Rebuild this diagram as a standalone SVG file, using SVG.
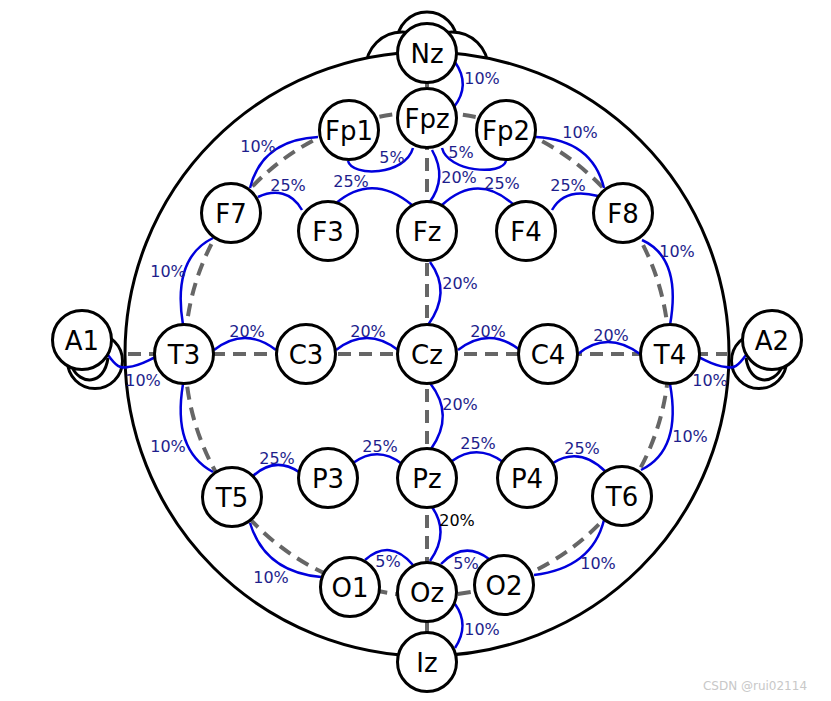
<svg xmlns="http://www.w3.org/2000/svg" width="831" height="701" viewBox="0 0 831 701">
<style>
.o{fill:#fff;stroke:#000;stroke-width:3}
.e{fill:none;stroke:#000;stroke-width:3}
.n circle{fill:#fff;stroke:#000;stroke-width:3}
.n text{font-family:"DejaVu Sans",sans-serif;font-size:26px;text-anchor:middle;fill:#000}
.d{fill:none;stroke:#666;stroke-width:4;stroke-dasharray:13,8}
.b{fill:none;stroke:#0000dd;stroke-width:2.5}
.l{font-family:"DejaVu Sans",sans-serif;font-size:16px;text-anchor:middle;fill:#1e1e8c}
</style>
<rect width="831" height="701" fill="#fff"/>
<g id="outline">
<circle class="o" cx="427" cy="42" r="30"/>
<circle class="o" cx="402" cy="68" r="36"/>
<circle class="o" cx="452" cy="68" r="36"/>
<circle class="o" cx="95" cy="361" r="27.5"/>
<circle class="o" cx="759" cy="361" r="27.5"/>
<circle class="o" cx="427" cy="354" r="302"/>
<path class="e" d="M72,367 C80,385 104,386 108,358"/>
<path class="e" d="M782,367 C774,385 750,386 746,358"/>
</g>
<g id="connectors">
<circle class="d" cx="427" cy="354" r="242"/>
<line class="d" x1="128" y1="354" x2="727" y2="354"/>
<line class="d" x1="427" y1="53" x2="427" y2="662"/>
<path class="b" d="M455,62 Q471,85 454,107"/>
<path class="b" d="M348,161 C352,177 405,176 413,148"/>
<path class="b" d="M442,148 C448,172 502,176 506,161"/>
<path class="b" d="M432,150 Q448,178 429,203"/>
<path class="b" d="M250,188 Q262,140 318,137"/>
<path class="b" d="M536,137 Q592,140 604,188"/>
<path class="b" d="M258,197 C275,189 292,192 302,210"/>
<path class="b" d="M335,204 Q372,172 412,205"/>
<path class="b" d="M442,205 Q478,172 514,205"/>
<path class="b" d="M552,210 C562,192 580,191 598,196"/>
<path class="b" d="M213,238 Q172,258 183,325"/>
<path class="b" d="M642,240 Q682,258 670,325"/>
<path class="b" d="M430,262 Q452,292 428,325"/>
<path class="b" d="M214,350 Q245,326 276,350"/>
<path class="b" d="M336,350 Q367,326 398,350"/>
<path class="b" d="M458,350 Q489,326 520,350"/>
<path class="b" d="M578,354 Q607,330 640,354"/>
<path class="b" d="M108,355 C116,366 120,369 128,367 C140,366 148,360 156,357"/>
<path class="b" d="M746,355 C738,366 734,369 726,367 C714,366 706,360 698,357"/>
<path class="b" d="M430,383 Q455,415 431,449"/>
<path class="b" d="M183,384 Q172,450 213,472"/>
<path class="b" d="M670,384 Q682,450 641,470"/>
<path class="b" d="M253,476 Q275,456 299,472"/>
<path class="b" d="M353,463 Q378,445 402,464"/>
<path class="b" d="M452,461 Q477,443 503,462"/>
<path class="b" d="M553,463 Q580,446 606,472"/>
<path class="b" d="M432,507 Q450,533 430,561"/>
<path class="b" d="M250,523 Q265,572 321,577"/>
<path class="b" d="M365,560 Q390,538 413,565"/>
<path class="b" d="M441,564 Q464,540 489,559"/>
<path class="b" d="M604,520 Q592,568 534,575"/>
<path class="b" d="M455,604 Q470,625 455,648"/>
</g>
<g id="labels">
<text class="l" x="482" y="84">10%</text>
<text class="l" x="392" y="163">5%</text>
<text class="l" x="461" y="158">5%</text>
<text class="l" x="459" y="183">20%</text>
<text class="l" x="258" y="152">10%</text>
<text class="l" x="580" y="138">10%</text>
<text class="l" x="288" y="191">25%</text>
<text class="l" x="351" y="187">25%</text>
<text class="l" x="502" y="189">25%</text>
<text class="l" x="568" y="191">25%</text>
<text class="l" x="168" y="277">10%</text>
<text class="l" x="677" y="257">10%</text>
<text class="l" x="460" y="289">20%</text>
<text class="l" x="247" y="337">20%</text>
<text class="l" x="368" y="337">20%</text>
<text class="l" x="488" y="337">20%</text>
<text class="l" x="611" y="341">20%</text>
<text class="l" x="143" y="386">10%</text>
<text class="l" x="710" y="386">10%</text>
<text class="l" x="460" y="410">20%</text>
<text class="l" x="168" y="452">10%</text>
<text class="l" x="690" y="442">10%</text>
<text class="l" x="277" y="464">25%</text>
<text class="l" x="380" y="452">25%</text>
<text class="l" x="478" y="449">25%</text>
<text class="l" x="582" y="454">25%</text>
<text class="l" x="457" y="526" style="fill:#000">20%</text>
<text class="l" x="271" y="583">10%</text>
<text class="l" x="388" y="567">5%</text>
<text class="l" x="466" y="569">5%</text>
<text class="l" x="598" y="569">10%</text>
<text class="l" x="482" y="635">10%</text>
</g>
<g id="Nz" class="n"><circle cx="427" cy="53" r="29.5"/><text x="427" y="62.5">Nz</text></g>
<g id="Fpz" class="n"><circle cx="427" cy="118" r="29.5"/><text x="427" y="127.5">Fpz</text></g>
<g id="Fp1" class="n"><circle cx="349" cy="130" r="29.5"/><text x="349" y="139.5">Fp1</text></g>
<g id="Fp2" class="n"><circle cx="506" cy="130" r="29.5"/><text x="506" y="139.5">Fp2</text></g>
<g id="F7" class="n"><circle cx="231" cy="213" r="29.5"/><text x="231" y="222.5">F7</text></g>
<g id="F3" class="n"><circle cx="328" cy="231" r="29.5"/><text x="328" y="240.5">F3</text></g>
<g id="Fz" class="n"><circle cx="427" cy="231" r="29.5"/><text x="427" y="240.5">Fz</text></g>
<g id="F4" class="n"><circle cx="526" cy="231" r="29.5"/><text x="526" y="240.5">F4</text></g>
<g id="F8" class="n"><circle cx="623" cy="213" r="29.5"/><text x="623" y="222.5">F8</text></g>
<g id="A1" class="n"><circle cx="82" cy="340" r="29.5"/><text x="82" y="349.5">A1</text></g>
<g id="T3" class="n"><circle cx="184" cy="354" r="29.5"/><text x="184" y="363.5">T3</text></g>
<g id="C3" class="n"><circle cx="306" cy="354" r="29.5"/><text x="306" y="363.5">C3</text></g>
<g id="Cz" class="n"><circle cx="427" cy="354" r="29.5"/><text x="427" y="363.5">Cz</text></g>
<g id="C4" class="n"><circle cx="548" cy="354" r="29.5"/><text x="548" y="363.5">C4</text></g>
<g id="T4" class="n"><circle cx="670" cy="354" r="29.5"/><text x="670" y="363.5">T4</text></g>
<g id="A2" class="n"><circle cx="772" cy="340" r="29.5"/><text x="772" y="349.5">A2</text></g>
<g id="T5" class="n"><circle cx="232" cy="497" r="29.5"/><text x="232" y="506.5">T5</text></g>
<g id="P3" class="n"><circle cx="328" cy="478" r="29.5"/><text x="328" y="487.5">P3</text></g>
<g id="Pz" class="n"><circle cx="427" cy="478" r="29.5"/><text x="427" y="487.5">Pz</text></g>
<g id="P4" class="n"><circle cx="527" cy="478" r="29.5"/><text x="527" y="487.5">P4</text></g>
<g id="T6" class="n"><circle cx="622" cy="496" r="29.5"/><text x="622" y="505.5">T6</text></g>
<g id="O1" class="n"><circle cx="350" cy="587" r="29.5"/><text x="350" y="596.5">O1</text></g>
<g id="Oz" class="n"><circle cx="427" cy="592" r="29.5"/><text x="427" y="601.5">Oz</text></g>
<g id="O2" class="n"><circle cx="504" cy="585" r="29.5"/><text x="504" y="594.5">O2</text></g>
<g id="Iz" class="n"><circle cx="427" cy="662" r="29.5"/><text x="427" y="671.5">Iz</text></g>
<text x="755" y="690" style="font-family:'DejaVu Sans',sans-serif;font-size:12px;text-anchor:middle;fill:#c8c8c8">CSDN @rui02114</text>
</svg>
